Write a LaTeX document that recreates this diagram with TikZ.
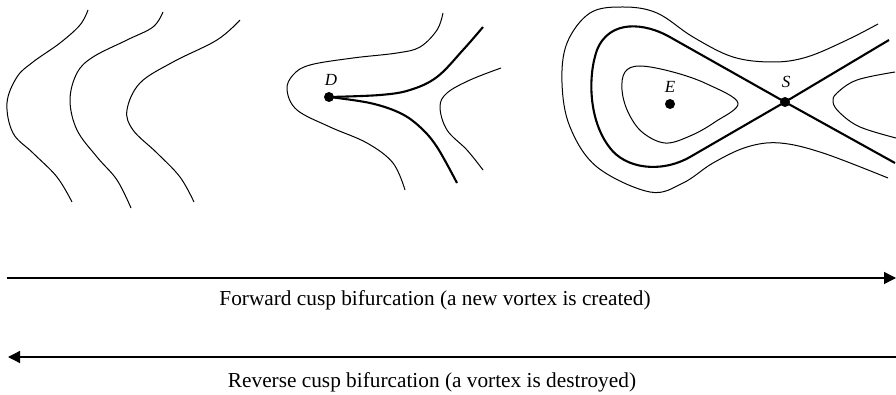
\documentclass[tikz,border=0pt]{standalone}
\usepackage{fontspec}
\setmainfont{Liberation Serif}
\usetikzlibrary{arrows.meta}
\begin{document}
\begin{tikzpicture}[x=1pt,y=-1pt,
  thinc/.style={line width=1pt, line join=round},
  thickc/.style={line width=2.1pt, line join=round},
  dotn/.style={circle, fill=black, inner sep=0pt, minimum size=10pt},
  lbl/.style={font=\fontsize{17}{20}\selectfont\itshape, inner sep=0pt},
  captxt/.style={font=\fontsize{21.3}{25}\selectfont, anchor=base, inner sep=0pt},
  arr/.style={line width=1.3pt, -{Triangle[length=12pt,width=12pt]}}]
\useasboundingbox (0,0) rectangle (896,395);
% left panel
\draw[thinc] plot[smooth, tension=0.6] coordinates {(88,10) (80,25) (60,43) (33,62) (17,77) (7,103) (13,133) (33,153) (57,177) (72,202)};
\draw[thinc] plot[smooth, tension=0.6] coordinates {(163,12) (153,27) (127,40) (93,57) (77,73) (70,100) (77,130) (97,157) (117,180) (131,208)};
\draw[thinc] plot[smooth, tension=0.6] coordinates {(240,20) (217,40) (173,62) (140,83) (127,110) (133,130) (157,153) (180,177) (194,202)};
% middle panel
\node[dotn] (D) at (329,97) {};
\node[lbl] (Dl) at (331,80) {D};
\draw[thinc] plot[smooth, tension=0.6] coordinates {(443,13) (437,30) (420,47) (397,53) (353,58) (310,65) (293,75) (287,90) (297,110) (330,127) (367,143) (393,163) (405,190)};
\draw[thickc] plot[smooth, tension=0.6] coordinates {(329,97) (380,95) (410,90) (437,77) (463,50) (483,27)};
\draw[thickc] plot[smooth, tension=0.6] coordinates {(329,97) (370,103) (400,113) (420,127) (437,147) (457,183)};
\draw[thinc] plot[smooth, tension=0.6] coordinates {(501,68) (470,80) (447,93) (440,107) (447,130) (467,150) (483,170)};
% right panel
\node[dotn] (E) at (670,104) {};
\node[lbl] (El) at (670,87) {E};
\node[dotn] (S) at (785,102) {};
\node[lbl] (Sl) at (786,82) {S};
\draw[thinc] plot[smooth, tension=0.6] coordinates {(878,24) (847,40) (807,57) (773,62) (733,57) (693,37) (657,13) (623,7) (590,13) (567,43) (562,83) (570,127) (597,167) (650,192) (683,183) (713,163) (747,147) (780,143) (823,153) (888,178)};
\draw[thinc] plot[smooth cycle, tension=0.6] coordinates {(738,103) (707,84) (673,72) (640,66) (625,72) (622,90) (628,112) (642,132) (665,143) (690,136) (715,122)};
\draw[thinc] plot[smooth, tension=0.6] coordinates {(895,72) (857,80) (837,93) (833,102) (840,113) (860,127) (896,138)};
\draw[thickc] (S.center) -- (668,36) .. controls (646,24) and (610,18) .. (597,50) .. controls (588,75) and (588,120) .. (610,148) .. controls (625,168) and (660,174) .. (690,157) -- (S.center);
\draw[thickc] (S.center) -- (889,40);
\draw[thickc] (S.center) -- (895,163);
% arrows
\coordinate (f1) at (7,278);
\coordinate (f2) at (896,278);
\coordinate (r1) at (896,357);
\coordinate (r2) at (8,357);
\draw[arr] (f1) -- (f2);
\draw[arr] (r1) -- (r2);
\node[captxt] (ft) at (435,305) {Forward cusp bifurcation (a new vortex is created)};
\node[captxt] (rt) at (432,387) {Reverse cusp bifurcation (a vortex is destroyed)};
\end{tikzpicture}
\end{document}
